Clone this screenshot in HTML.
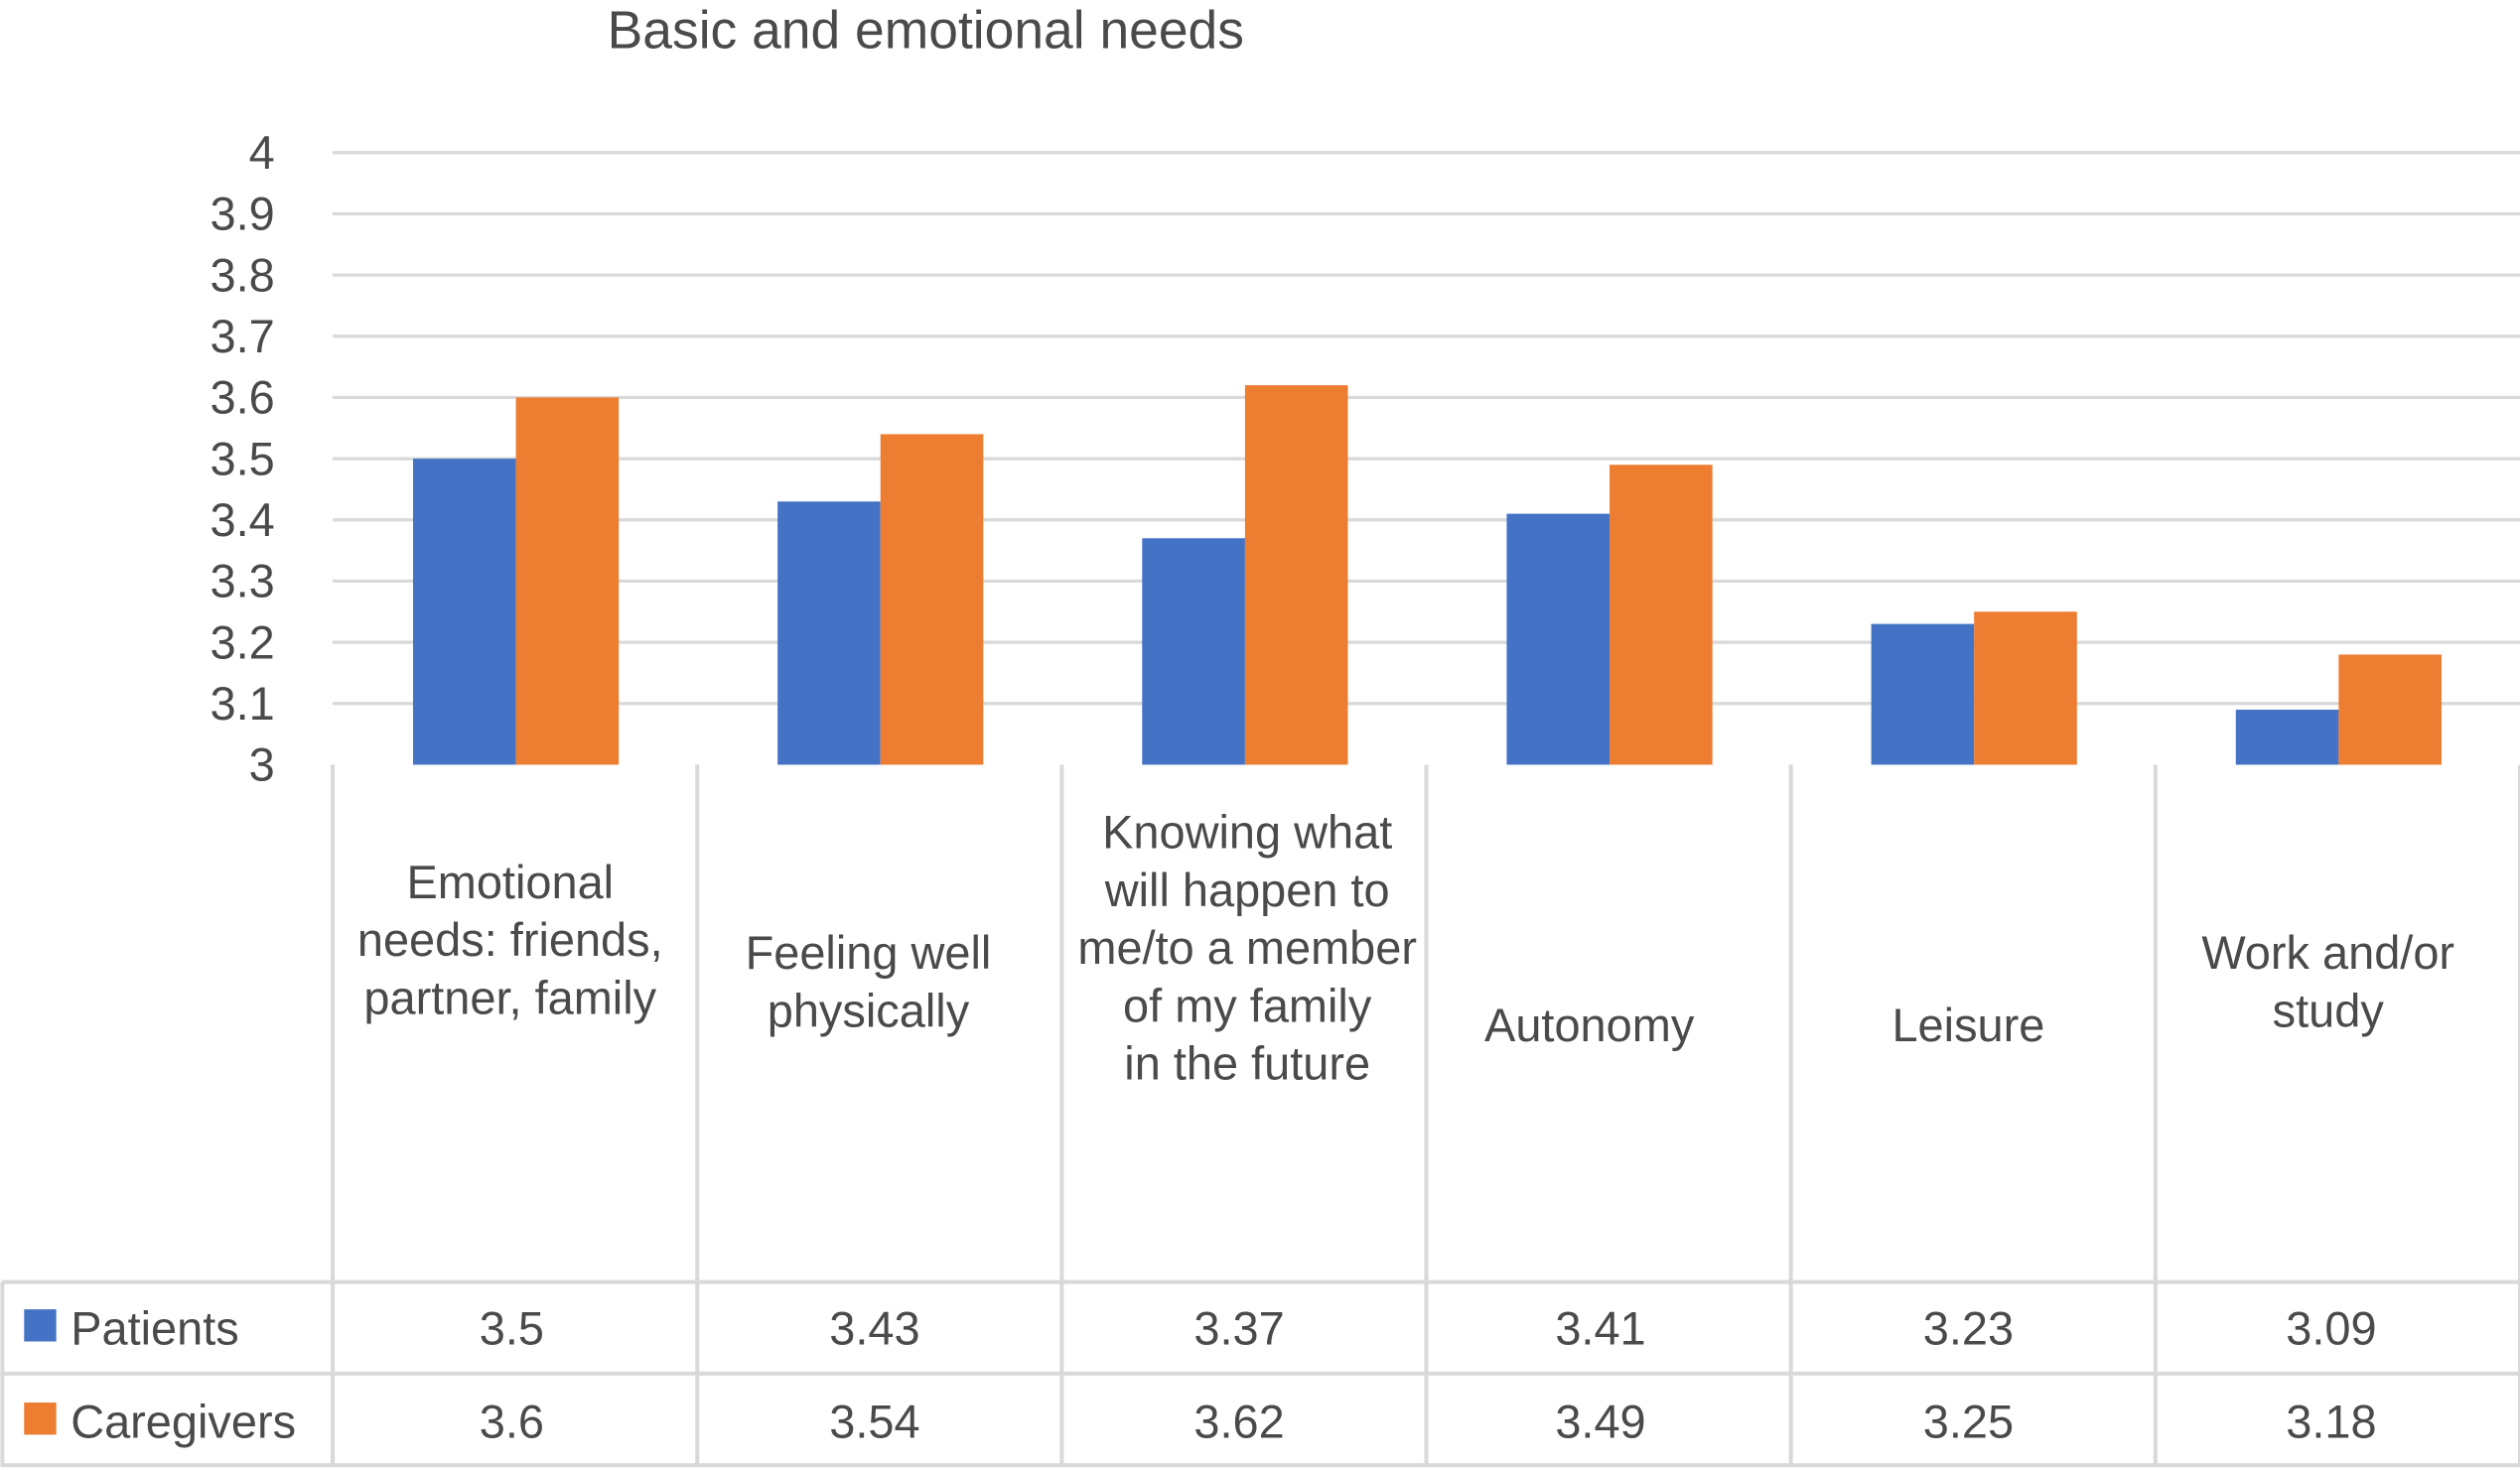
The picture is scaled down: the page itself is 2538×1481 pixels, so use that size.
<!DOCTYPE html>
<html><head><meta charset="utf-8"><style>
html,body{margin:0;padding:0;background:#fff;}
svg{display:block;font-family:"Liberation Sans",sans-serif;}
</style></head><body>
<svg id="chart" width="2538" height="1481" viewBox="0 0 1568 915" preserveAspectRatio="none" xmlns="http://www.w3.org/2000/svg">
<text x="576" y="30" text-anchor="middle" font-size="33" fill="#4a4a4a">Basic and emotional needs</text>
<g id="grid"></g><g id="bars"></g><g id="table"></g>
</svg>
<script>
const categories=[["Emotional","needs: friends,","partner, family"],["Feeling well","physically"],["Knowing what","will  happen to","me/to a member","of my family","in the future"],["Autonomy"],["Leisure"],["Work and/or","study"]];
const patients=[3.5,3.43,3.37,3.41,3.23,3.09];
const caregivers=[3.6,3.54,3.62,3.49,3.25,3.18];
const seriesNames=["Patients","Caregivers"];
const ticks=[3,3.1,3.2,3.3,3.4,3.5,3.6,3.7,3.8,3.9,4];
const tickLabels=["3","3.1","3.2","3.3","3.4","3.5","3.6","3.7","3.8","3.9","4"];
const NS="http://www.w3.org/2000/svg";
const X0=207,X1=1568,Y0=476,Y1=95,yMin=3,yMax=4;
const colW=(X1-X0)/categories.length;
const labelTop=[549,593,518,638,638,593];
const labelDx=[-3,-7,2,-12,-3,-6];
const valDx=[-2,-3,-3,-5,-3,-4];
const TC='#4a4a4a';
function y(v){return Y0-(v-yMin)/(yMax-yMin)*(Y0-Y1);}
function xc(i){return X0+colW*i;}
function mk(tag,attrs,parent,txt){const e=document.createElementNS(NS,tag);for(const k in attrs)e.setAttribute(k,attrs[k]);if(txt!==undefined)e.textContent=txt;parent.appendChild(e);return e;}
const grid=document.getElementById('grid'),bars=document.getElementById('bars'),table=document.getElementById('table');
ticks.forEach((t,i)=>{
 if(i>0){const l=mk('line',{x1:X0,x2:X1,y1:y(t),y2:y(t),stroke:'#d9d9d9','stroke-width':2},grid);
 
 }
 const tx=mk('text',{x:171,y:y(t)+10,'text-anchor':'end','font-size':29,fill:TC},grid,tickLabels[i]);
 
 
});
const colors=['#4472C4','#ED7D31'];
[patients,caregivers].forEach((s,si)=>{
 s.forEach((v,i)=>{
  const r=mk('rect',{x:xc(i)+50+si*64,y:y(v),width:64,height:Y0-y(v),fill:colors[si]},bars);
  
  
 });
});
const gc='#d9d9d9';
function ln(x1,y1,x2,y2){const l=mk('line',{x1,y1,x2,y2,stroke:gc,'stroke-width':2.5},table);
 
 }
for(let i=0;i<=categories.length;i++)ln(xc(i),476,xc(i),913);
[798,855,912].forEach(yy=>ln(1,yy,X1,yy));
ln(1.5,798,1.5,913);
categories.forEach((lines,i)=>{
 const cx=xc(i)+colW/2+labelDx[i];
 const t=mk('text',{x:cx,'text-anchor':'middle','font-size':29,fill:TC},table);
 
 
 lines.forEach((s,k)=>mk('tspan',{x:cx,y:labelTop[i]+10+k*36},t,s));
});
[patients,caregivers].forEach((s,si)=>{
 const yy=837+si*58;
 const m=mk('rect',{x:15,y:yy-22,width:20,height:20,fill:colors[si]},table);
 
 
 const lt=mk('text',{x:44,y:yy,'font-size':29,fill:TC},table,seriesNames[si]);
 
 
 s.forEach((v,i)=>{
  const vt=mk('text',{x:xc(i)+colW/2+valDx[i],y:yy,'text-anchor':'middle','font-size':29,fill:TC},table,String(v));
  
  
 });
});
</script>
</body></html>
